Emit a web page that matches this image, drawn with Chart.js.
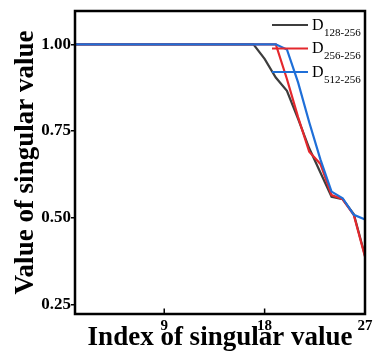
<!DOCTYPE html>
<html>
<head>
<meta charset="utf-8">
<script src="https://cdn.jsdelivr.net/npm/chart.js@4/dist/chart.umd.min.js"></script>
<style>
  html, body { margin: 0; padding: 0; background: #ffffff; }
  #wrap { width: 387px; height: 363px; position: relative; }
</style>
</head>
<body>
<div id="wrap"><canvas id="c"></canvas></div>
<script>
// ---- data ----
const indices = [1,2,3,4,5,6,7,8,9,10,11,12,13,14,15,16,17,18,19,20,21,22,23,24,25,26,27];
const d128 = [1,1,1,1,1,1,1,1,1,1,1,1,1,1,1,1,1,0.958,0.904,0.866,0.785,0.700,0.630,0.560,0.553,0.510,0.390];
const d256 = [1,1,1,1,1,1,1,1,1,1,1,1,1,1,1,1,1,1,1,0.900,0.790,0.690,0.655,0.565,0.553,0.507,0.387];
const d512 = [1,1,1,1,1,1,1,1,1,1,1,1,1,1,1,1,1,1,1,0.985,0.890,0.775,0.668,0.575,0.556,0.508,0.495];
const seriesMain = 'D';
const seriesSub = ['128-256', '256-256', '512-256'];
const seriesColors = ['#3d3d3d', '#e4282d', '#1f6fd8'];
const xTickValues = [9, 18, 27];
const yTickValues = [0.25, 0.50, 0.75, 1.00];
const xTitle = 'Index of singular value';
const yTitle = 'Value of singular value';

const SERIF = '"Liberation Serif", "Times New Roman", serif';
const seriesValues = [d128, d256, d512];

const datasets = seriesValues.map((vals, i) => ({
  label: seriesMain + seriesSub[i],
  data: indices.map((x, k) => ({x: x, y: vals[k]})),
  borderColor: seriesColors[i],
  backgroundColor: seriesColors[i],
  borderWidth: 2.2,
  pointRadius: 0,
  tension: 0,
  fill: false,
  order: 2 - i
}));

const framePlugin = {
  id: 'frame',
  afterDraw(chart) {
    const {ctx, chartArea: a, scales} = chart;
    ctx.save();
    // inside tick marks on the x axis
    ctx.strokeStyle = '#000';
    ctx.lineWidth = 1.5;
    xTickValues.forEach(v => {
      const px = scales.x.getPixelForValue(v);
      ctx.beginPath();
      ctx.moveTo(px, a.bottom);
      ctx.lineTo(px, a.bottom - 5.5);
      ctx.stroke();
    });
    // box
    ctx.lineWidth = 2.5;
    ctx.strokeRect(a.left, a.top, a.right - a.left, a.bottom - a.top);
    // legend with subscripts
    const rowY = [25, 48.5, 72];
    seriesSub.forEach((sub, i) => {
      const y = rowY[i];
      ctx.strokeStyle = seriesColors[i];
      ctx.lineWidth = 2.2;
      ctx.beginPath();
      ctx.moveTo(272, y);
      ctx.lineTo(308, y);
      ctx.stroke();
      ctx.fillStyle = '#000';
      ctx.textAlign = 'left';
      ctx.textBaseline = 'alphabetic';
      ctx.font = '16px ' + SERIF;
      ctx.fillText(seriesMain, 312, y + 4.8);
      const w = ctx.measureText(seriesMain).width;
      ctx.font = '11px ' + SERIF;
      ctx.fillText(sub, 312 + w + 0.5, y + 10.5);
    });
    ctx.restore();
  }
};

new Chart(document.getElementById('c'), {
  type: 'line',
  data: { datasets: datasets },
  options: {
    responsive: true,
    maintainAspectRatio: false,
    animation: false,
    devicePixelRatio: 1,
    layout: { padding: { left: 0, top: 11, right: 22, bottom: 0 } },
    plugins: { legend: { display: false }, tooltip: { enabled: false } },
    scales: {
      x: {
        type: 'linear',
        min: 1,
        max: 27,
        afterBuildTicks: s => { s.ticks = xTickValues.map(v => ({value: v})); },
        afterFit: s => { s.height = 49; },
        grid: { display: false, drawTicks: false },
        border: { display: false },
        ticks: {
          autoSkip: false, maxRotation: 0, padding: 3, color: '#000',
          font: { family: SERIF, size: 15, weight: 'bold' },
          callback: v => String(v)
        },
        title: {
          display: true, text: xTitle, color: '#000',
          font: { family: SERIF, size: 27, weight: 'bold', lineHeight: 1.2 },
          padding: { top: 0, bottom: 9 }
        }
      },
      y: {
        type: 'linear',
        min: 0.222,
        max: 1.096,
        afterBuildTicks: s => { s.ticks = yTickValues.map(v => ({value: v})); },
        afterFit: s => { s.width = 75; },
        grid: { display: true, drawOnChartArea: false, drawTicks: true, tickLength: 4, color: '#000', lineWidth: 1.5 },
        border: { display: false },
        ticks: {
          autoSkip: false, padding: 0, color: '#000',
          font: { family: SERIF, size: 17, weight: 'bold' },
          callback: v => v.toFixed(2)
        },
        title: {
          display: true, text: yTitle, color: '#000',
          font: { family: SERIF, size: 27, weight: 'bold', lineHeight: 1.2 },
          padding: { top: 10, bottom: 0 }
        }
      }
    }
  },
  plugins: [framePlugin]
});
</script>
</body>
</html>
